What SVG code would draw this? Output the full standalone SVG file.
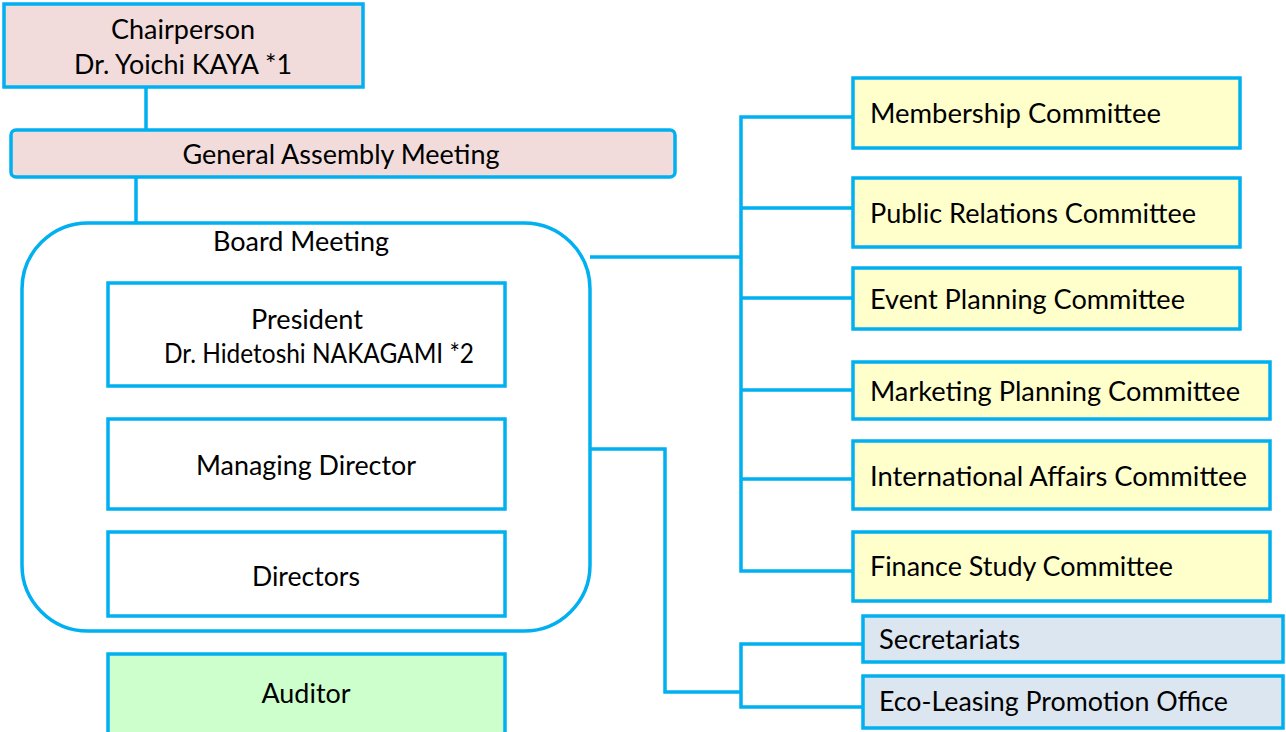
<svg xmlns="http://www.w3.org/2000/svg" width="1286" height="732" viewBox="0 0 1286 732">
<style>
.box{stroke:#00b0f0;stroke-width:3.5}
.pink{fill:#f2dcdb}
.white{fill:#ffffff}
.yellow{fill:#ffffcc}
.blue{fill:#dce6f1}
.green{fill:#ccffcc}
.t{font-family:Lato,"Open Sans","Liberation Sans",sans-serif;font-size:26px;fill:#000}
.c{text-anchor:middle}
.conn{fill:none;stroke:#00b0f0;stroke-width:3.5;stroke-linejoin:miter}
</style>
<rect width="1286" height="732" fill="#ffffff"/>
<g id="connectors">
<path class="conn" d="M146 87V130"/>
<path class="conn" d="M136 177V223"/>
<path class="conn" d="M590 257H741"/>
<path class="conn" d="M853 117H741V571H853"/>
<path class="conn" d="M741 208H853M741 298H853M741 390H853M741 479H853"/>
<path class="conn" d="M590 449H665V692H741"/>
<path class="conn" d="M863 644H741V707H863"/>
</g>
<g id="chairperson">
<rect class="box pink" x="4" y="4" width="359" height="83"/>
<text class="t c" x="183" y="39" textLength="144" lengthAdjust="spacingAndGlyphs">Chairperson</text>
<text class="t c" x="183" y="74" textLength="218" lengthAdjust="spacingAndGlyphs">Dr. Yoichi KAYA *1</text>
</g>
<g id="general-assembly">
<rect class="box pink" x="11" y="130" width="664" height="47" rx="5"/>
<text class="t c" x="341" y="164" textLength="317" lengthAdjust="spacingAndGlyphs">General Assembly Meeting</text>
</g>
<g id="board-meeting">
<rect class="box white" x="22" y="223" width="568" height="408" rx="66"/>
<text class="t c" x="301" y="251" textLength="176" lengthAdjust="spacingAndGlyphs">Board Meeting</text>
</g>
<g id="president">
<rect class="box white" x="108" y="283" width="397" height="103"/>
<text class="t c" x="307" y="329" textLength="112" lengthAdjust="spacingAndGlyphs">President</text>
<text class="t c" x="319" y="363" textLength="310" lengthAdjust="spacingAndGlyphs">Dr. Hidetoshi NAKAGAMI *2</text>
</g>
<g id="managing-director">
<rect class="box white" x="108" y="419" width="397" height="90"/>
<text class="t c" x="306" y="475" textLength="220" lengthAdjust="spacingAndGlyphs">Managing Director</text>
</g>
<g id="directors">
<rect class="box white" x="108" y="532" width="397" height="84"/>
<text class="t c" x="306" y="586" textLength="108" lengthAdjust="spacingAndGlyphs">Directors</text>
</g>
<g id="auditor">
<rect class="box green" x="108" y="654" width="397" height="86"/>
<text class="t c" x="306" y="703" textLength="89" lengthAdjust="spacingAndGlyphs">Auditor</text>
</g>
<g id="membership">
<rect class="box yellow" x="853" y="78" width="387" height="70"/>
<text class="t" x="870" y="123" textLength="291" lengthAdjust="spacingAndGlyphs">Membership Committee</text>
</g>
<g id="public-relations">
<rect class="box yellow" x="853" y="178" width="387" height="69"/>
<text class="t" x="870" y="223" textLength="326" lengthAdjust="spacingAndGlyphs">Public Relations Committee</text>
</g>
<g id="event-planning">
<rect class="box yellow" x="853" y="268" width="387" height="61"/>
<text class="t" x="870" y="309" textLength="315" lengthAdjust="spacingAndGlyphs">Event Planning Committee</text>
</g>
<g id="marketing-planning">
<rect class="box yellow" x="853" y="362" width="417" height="57"/>
<text class="t" x="870" y="401" textLength="370" lengthAdjust="spacingAndGlyphs">Marketing Planning Committee</text>
</g>
<g id="international-affairs">
<rect class="box yellow" x="853" y="441" width="417" height="68"/>
<text class="t" x="870" y="486" textLength="377" lengthAdjust="spacingAndGlyphs">International Affairs Committee</text>
</g>
<g id="finance-study">
<rect class="box yellow" x="853" y="532" width="417" height="69"/>
<text class="t" x="870" y="576" textLength="303" lengthAdjust="spacingAndGlyphs">Finance Study Committee</text>
</g>
<g id="secretariats">
<rect class="box blue" x="863" y="616" width="420" height="46"/>
<text class="t" x="879" y="649" textLength="141" lengthAdjust="spacingAndGlyphs">Secretariats</text>
</g>
<g id="eco-leasing">
<rect class="box blue" x="863" y="676" width="420" height="52"/>
<text class="t" x="879" y="711" textLength="349" lengthAdjust="spacingAndGlyphs">Eco-Leasing Promotion Office</text>
</g>
</svg>
